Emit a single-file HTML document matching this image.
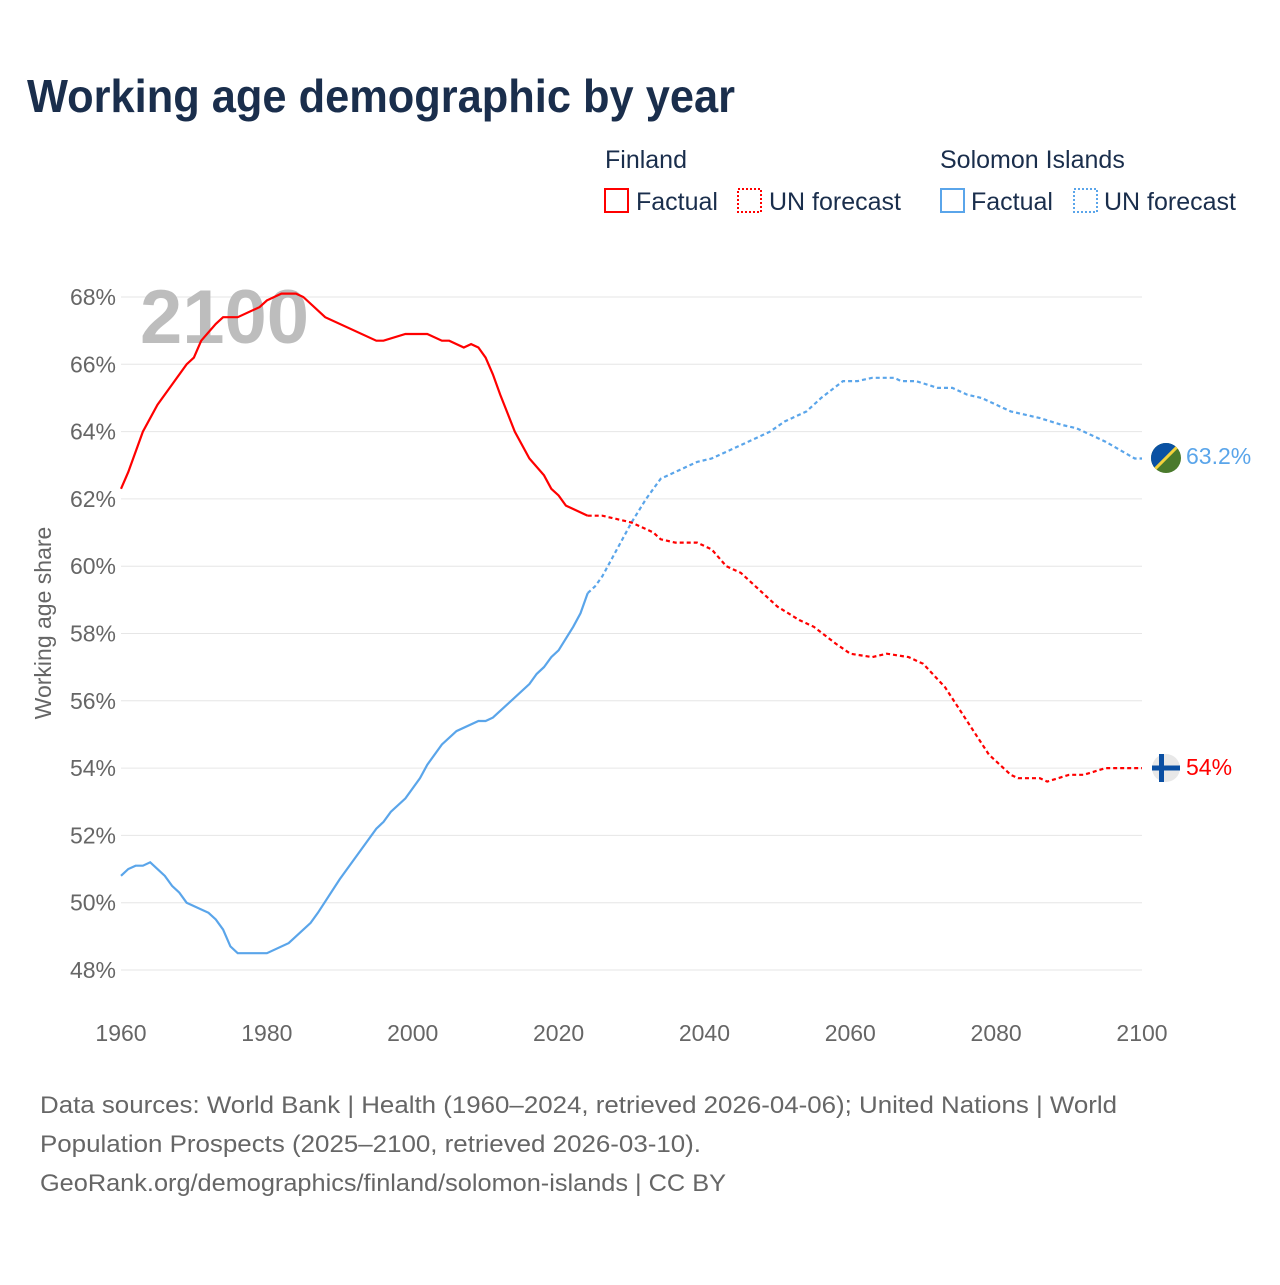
<!DOCTYPE html>
<html><head><meta charset="utf-8"><style>
body{margin:0;background:#fff;font-family:"Liberation Sans",sans-serif;}
svg text{font-family:"Liberation Sans",sans-serif;}
</style></head><body>
<svg id="c" width="1280" height="1280" viewBox="0 0 1280 1280">
<rect width="1280" height="1280" fill="#fff"/>
<text x="27" y="112" font-size="46" font-weight="bold" fill="#1a2e4c" textLength="708" lengthAdjust="spacingAndGlyphs">Working age demographic by year</text>
<g>
<text x="605" y="168" font-size="25" fill="#1a2e4c">Finland</text>
<text x="940" y="168" font-size="25" fill="#1a2e4c">Solomon Islands</text>
<g><rect x="605" y="189" width="23" height="23" fill="none" stroke="#f00" stroke-width="2"/><text x="636" y="210" font-size="25" fill="#1a2e4c">Factual</text></g>
<g><rect x="738" y="189" width="23" height="23" fill="none" stroke="#f00" stroke-width="2" stroke-dasharray="2,2"/><text x="769" y="210" font-size="25" fill="#1a2e4c">UN forecast</text></g>
<g><rect x="941" y="189" width="23" height="23" fill="none" stroke="#5aa5ea" stroke-width="2"/><text x="971" y="210" font-size="25" fill="#1a2e4c">Factual</text></g>
<g><rect x="1074" y="189" width="23" height="23" fill="none" stroke="#5aa5ea" stroke-width="2" stroke-dasharray="2,2"/><text x="1104" y="210" font-size="25" fill="#1a2e4c">UN forecast</text></g>
</g>
<g id="grid"></g>
<text x="140" y="343" font-size="76" font-weight="bold" fill="#bdbdbd">2100</text>
<text transform="translate(51,623) rotate(-90)" text-anchor="middle" font-size="23" fill="#666">Working age share</text>
<g id="lines"></g>
<g><circle cx="1166" cy="768" r="14" fill="#e8e8e8"/><rect x="1152" y="765.5" width="28" height="5" fill="#0a4fa3"/><rect x="1159" y="754" width="5" height="28" fill="#0a4fa3"/></g>
<g><clipPath id="sc"><circle cx="1166" cy="458" r="15"/></clipPath><g clip-path="url(#sc)"><rect x="1150" y="442" width="32" height="32" fill="#4a7a2c"/><polygon points="1150,442 1182,442 1150,474" fill="#0a51a3"/><line x1="1182" y1="442" x2="1150" y2="474" stroke="#f3d23c" stroke-width="3"/></g></g>
<text x="1186" y="464" font-size="23" fill="#5aa5ea">63.2%</text>
<text x="1186" y="775" font-size="23" fill="#f00">54%</text>
<g font-size="24" fill="#666">
<text x="40" y="1113" textLength="1077" lengthAdjust="spacingAndGlyphs">Data sources: World Bank | Health (1960–2024, retrieved 2026-04-06); United Nations | World</text>
<text x="40" y="1152" textLength="661" lengthAdjust="spacingAndGlyphs">Population Prospects (2025–2100, retrieved 2026-03-10).</text>
<text x="40" y="1191" textLength="686" lengthAdjust="spacingAndGlyphs">GeoRank.org/demographics/finland/solomon-islands | CC BY</text>
</g>
</svg>
<script>
const yTicks=[48,50,52,54,56,58,60,62,64,66,68];
const xTicks=[1960,1980,2000,2020,2040,2060,2080,2100];
const finYears=[1960,1961,1963,1965,1967,1969,1970,1971,1973,1974,1976,1979,1980,1982,1984,1985,1988,1995,1996,1999,2002,2004,2005,2007,2008,2009,2010,2011,2012,2014,2016,2018,2019,2020,2021,2024,2026,2028,2030,2033,2034,2036,2039,2041,2043,2045,2048,2050,2053,2055,2058,2060,2063,2065,2068,2070,2073,2076,2079,2082,2083,2086,2087,2090,2092,2095,2100];
const finValues=[62.3,62.8,64.0,64.8,65.4,66.0,66.2,66.7,67.2,67.4,67.4,67.7,67.9,68.1,68.1,68.0,67.4,66.7,66.7,66.9,66.9,66.7,66.7,66.5,66.6,66.5,66.2,65.7,65.1,64.0,63.2,62.7,62.3,62.1,61.8,61.5,61.5,61.4,61.3,61.0,60.8,60.7,60.7,60.5,60.0,59.8,59.2,58.8,58.4,58.2,57.7,57.4,57.3,57.4,57.3,57.1,56.4,55.4,54.4,53.8,53.7,53.7,53.6,53.8,53.8,54.0,54.0];
const solYears=[1960,1961,1962,1963,1964,1966,1967,1968,1969,1972,1973,1974,1975,1976,1980,1983,1986,1987,1990,1993,1995,1996,1997,1999,2001,2002,2004,2006,2009,2010,2011,2013,2016,2017,2018,2019,2020,2022,2023,2024,2025,2026,2028,2030,2032,2034,2036,2039,2041,2045,2049,2051,2054,2056,2059,2061,2063,2066,2067,2069,2072,2074,2076,2078,2082,2086,2089,2091,2095,2099,2100];
const solValues=[50.8,51.0,51.1,51.1,51.2,50.8,50.5,50.3,50.0,49.7,49.5,49.2,48.7,48.5,48.5,48.8,49.4,49.7,50.7,51.6,52.2,52.4,52.7,53.1,53.7,54.1,54.7,55.1,55.4,55.4,55.5,55.9,56.5,56.8,57.0,57.3,57.5,58.2,58.6,59.2,59.4,59.7,60.5,61.3,62.0,62.6,62.8,63.1,63.2,63.6,64.0,64.3,64.6,65.0,65.5,65.5,65.6,65.6,65.5,65.5,65.3,65.3,65.1,65.0,64.6,64.4,64.2,64.1,63.7,63.2,63.2];
const lastFactual=2024;
const X=y=>121+(y-1960)*(1142-121)/140;
const Y=v=>970-(v-48)*(970-297)/20;
const NS='http://www.w3.org/2000/svg';
const grid=document.getElementById('grid'),lines=document.getElementById('lines');
yTicks.forEach(t=>{
 const l=document.createElementNS(NS,'line');
 l.setAttribute('x1',121);l.setAttribute('x2',1142);l.setAttribute('y1',Y(t));l.setAttribute('y2',Y(t));
 l.setAttribute('stroke','#e6e6e6');l.setAttribute('stroke-width','1');
 
 
 grid.appendChild(l);
 const tx=document.createElementNS(NS,'text');
 tx.setAttribute('x',116);tx.setAttribute('y',Y(t)+8);tx.setAttribute('text-anchor','end');
 tx.setAttribute('font-size','23');tx.setAttribute('fill','#666');tx.textContent=t+'%';
 
 
 grid.appendChild(tx);
});
xTicks.forEach(t=>{
 const tx=document.createElementNS(NS,'text');
 tx.setAttribute('x',X(t));tx.setAttribute('y',1041);tx.setAttribute('text-anchor','middle');
 tx.setAttribute('font-size','23');tx.setAttribute('fill','#666');tx.textContent=t;
 
 
 grid.appendChild(tx);
});
function draw(years,vals,color,name){
 const a=[],b=[];
 years.forEach((yr,i)=>{const p=X(yr).toFixed(1)+','+Y(vals[i]).toFixed(1);if(yr<=lastFactual)a.push(p);if(yr>=lastFactual)b.push(p);});
 [[a,'',name+'-factual-line'],[b,'4,3',name+'-forecast-line']].forEach(([pts,dash,n])=>{
  const pl=document.createElementNS(NS,'polyline');
  pl.setAttribute('points',pts.join(' '));pl.setAttribute('fill','none');
  pl.setAttribute('stroke',color);pl.setAttribute('stroke-width','2.2');
  if(dash)pl.setAttribute('stroke-dasharray',dash);
  
  
  lines.appendChild(pl);
 });
}
draw(solYears,solValues,'#5aa5ea','solomon');
draw(finYears,finValues,'#f00','finland');
</script>
</body></html>
